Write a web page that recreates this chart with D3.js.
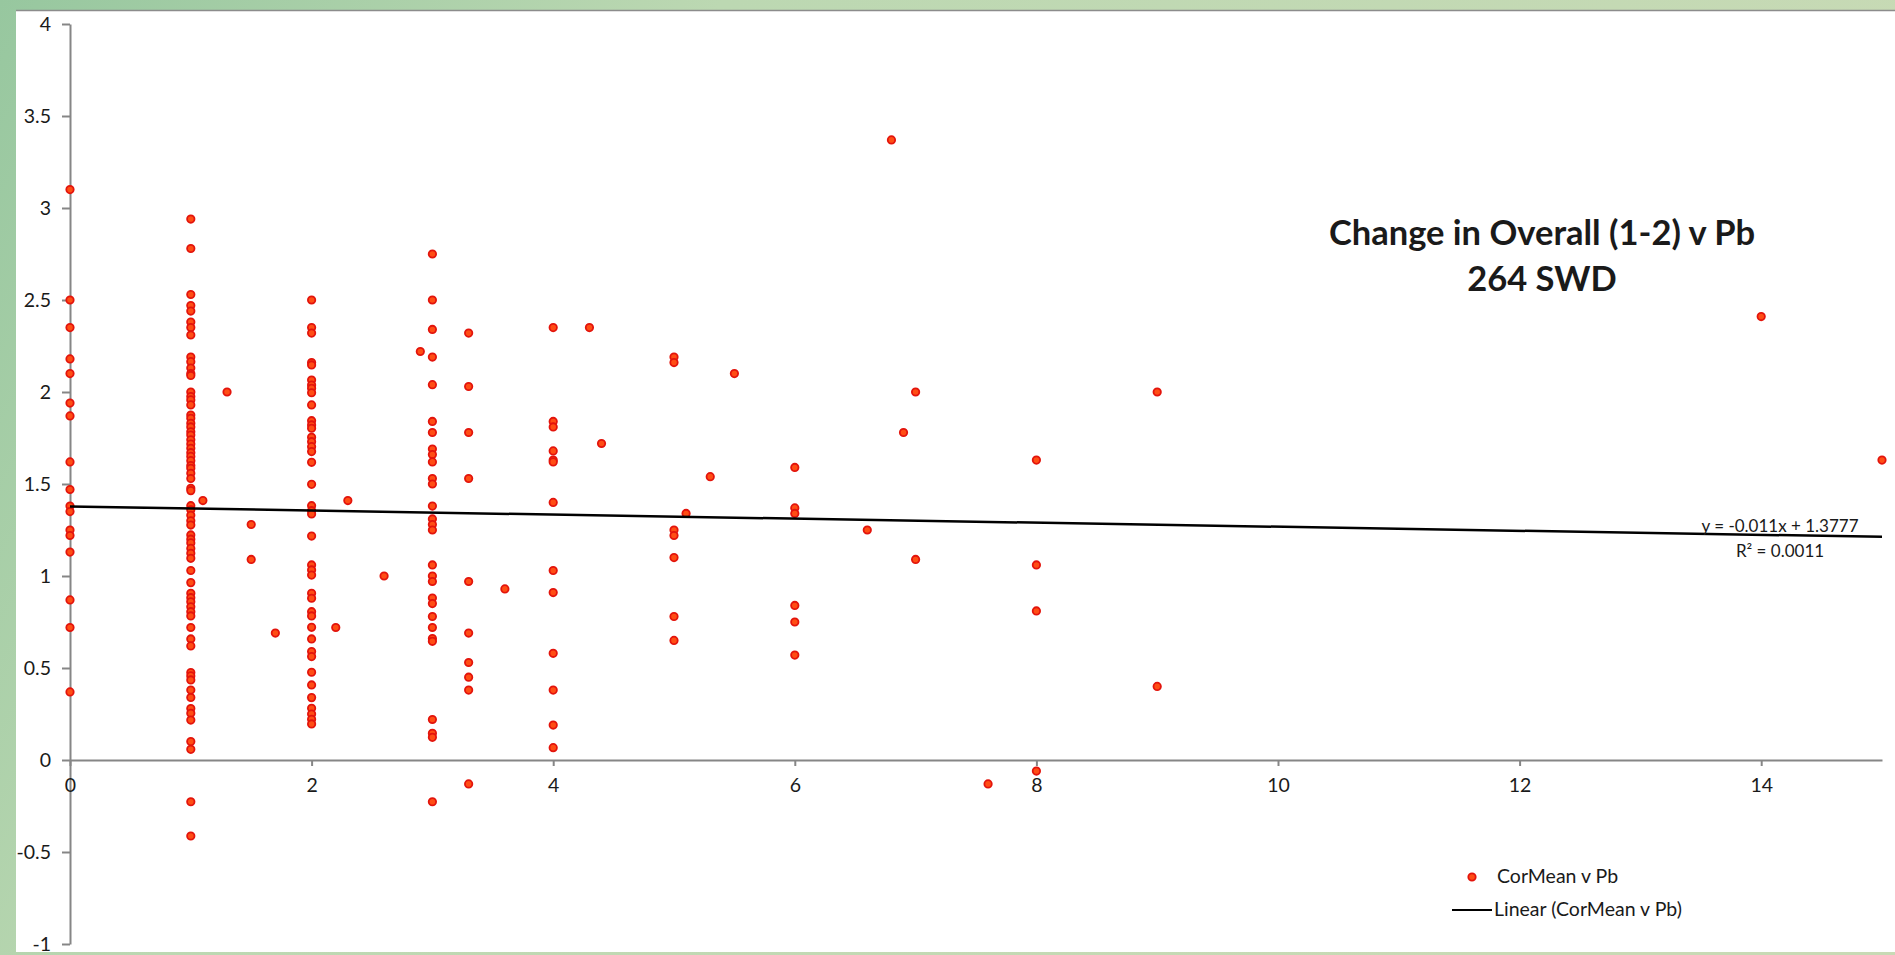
<!DOCTYPE html>
<html>
<head>
<meta charset="utf-8">
<script src="https://cdn.jsdelivr.net/npm/d3@7"></script>
<style>
  body { margin: 0; overflow: hidden; background: #b8d6ae; }
  svg { display: block; }
  text { font-family: Lato, "Open Sans", sans-serif; fill: #1a1a1a; }
</style>
</head>
<body>
<div id="chart"></div>
<script>
// CorMean change for the dots stacked on whole Pb values
const pbAt0 = [3.1, 2.5, 2.35, 2.18, 2.1, 1.94, 1.87, 1.62, 1.47, 1.38, 1.35, 1.25, 1.22, 1.13, 0.87, 0.72, 0.37];
const pbAt1 = [2.94, 2.78, 2.53, 2.47, 2.44, 2.38, 2.35, 2.31, 2.19, 2.165, 2.13, 2.1, 2.09, 2.0, 1.975, 1.957,
  1.93, 1.875, 1.857, 1.83, 1.81, 1.784, 1.766, 1.74, 1.717, 1.694, 1.67, 1.65, 1.627, 1.6, 1.585, 1.558,
  1.53, 1.477, 1.464, 1.382, 1.36, 1.33, 1.3, 1.277, 1.223, 1.2, 1.18, 1.15, 1.123, 1.096, 1.03, 0.964,
  0.906, 0.882, 0.86, 0.833, 0.806, 0.783, 0.72, 0.658, 0.62, 0.475, 0.457, 0.435, 0.38, 0.34, 0.28,
  0.254, 0.217, 0.1, 0.058, -0.227, -0.413];
const pbAt2 = [2.5, 2.35, 2.32, 2.16, 2.147, 2.065, 2.038, 2.02, 1.996, 1.93, 1.844, 1.821, 1.803, 1.754,
  1.73, 1.703, 1.676, 1.618, 1.498, 1.382, 1.355, 1.337, 1.217, 1.06, 1.033, 1.005, 0.906, 0.879, 0.806,
  0.783, 0.721, 0.658, 0.589, 0.562, 0.477, 0.408, 0.339, 0.281, 0.25, 0.221, 0.196];
const pbAt3 = [2.75, 2.5, 2.34, 2.19, 2.04, 1.84, 1.78, 1.69, 1.66, 1.62, 1.53, 1.5, 1.38, 1.31, 1.28, 1.25,
  1.06, 1.0, 0.97, 0.88, 0.85, 0.78, 0.72, 0.66, 0.645, 0.22, 0.145, 0.123, -0.227];
const pbAt3_3 = [2.32, 2.03, 1.78, 1.53, 0.97, 0.69, 0.53, 0.45, 0.38, -0.13];
const pbAt4 = [2.35, 1.84, 1.81, 1.68, 1.63, 1.62, 1.4, 1.03, 0.91, 0.58, 0.38, 0.19, 0.067];
const pbAt5 = [2.19, 2.16, 1.25, 1.22, 1.1, 0.78, 0.65];
const pbAt6 = [1.59, 1.37, 1.34, 0.84, 0.75, 0.57];
const pbAt8 = [1.63, 1.06, 0.81, -0.06];
const pbAt9 = [2.0, 0.4];

// the loose dots: Pb and CorMean pairs
const otherPb   = [1.1, 1.3, 1.5, 1.5, 1.7, 2.2, 2.3, 2.6, 2.9, 3.6, 4.3, 4.4, 5.1, 5.3, 5.5, 6.6, 6.8, 6.9, 7, 7, 7.6, 14, 15];
const otherMean = [1.41, 2.0, 1.28, 1.09, 0.69, 0.72, 1.41, 1.0, 2.22, 0.93, 2.35, 1.72, 1.34, 1.54, 2.1, 1.25, 3.37, 1.78, 2.0, 1.09, -0.13, 2.41, 1.63];

// trendline as printed by excel
const trendSlope = -0.011;
const trendIntercept = 1.3777;

const xTicks = [0, 2, 4, 6, 8, 10, 12, 14];
const yTicks = [-1, -0.5, 0, 0.5, 1, 1.5, 2, 2.5, 3, 3.5, 4];

// put every dot in one list
let points = [];
[[0, pbAt0], [1, pbAt1], [2, pbAt2], [3, pbAt3], [3.3, pbAt3_3], [4, pbAt4],
 [5, pbAt5], [6, pbAt6], [8, pbAt8], [9, pbAt9]].forEach(function(col) {
    col[1].forEach(function(v) { points.push({ pb: col[0], mean: v }); });
});
otherPb.forEach(function(p, i) { points.push({ pb: p, mean: otherMean[i] }); });

const W = 1895, H = 955;

let svg = d3.select("#chart").append("svg")
    .attr("width", W)
    .attr("height", H);

// green background and the white chart area
let defs = svg.append("defs");
let grad = defs.append("linearGradient")
    .attr("id", "bg")
    .attr("x1", "0").attr("y1", "0").attr("x2", "1").attr("y2", "0.3");
grad.append("stop").attr("offset", "0").attr("stop-color", "#97c79f");
grad.append("stop").attr("offset", "0.35").attr("stop-color", "#bcd8b2");
grad.append("stop").attr("offset", "1").attr("stop-color", "#c8dab5");

svg.append("rect")
    .attr("width", W).attr("height", H)
    .attr("fill", "url(#bg)");

svg.append("rect")
    .attr("x", 16).attr("y", 10)
    .attr("width", W - 16).attr("height", 942)
    .attr("fill", "#ffffff");
svg.append("line")
    .attr("x1", 16).attr("x2", W)
    .attr("y1", 10.5).attr("y2", 10.5)
    .attr("stroke", "#8c8c8c").attr("stroke-width", 1.5);

// scales
let x = d3.scaleLinear().domain([0, 15]).range([70, 1882]);
let y = d3.scaleLinear().domain([-1, 4]).range([944, 24]);

// y axis
let yAxis = svg.append("g")
    .attr("transform", "translate(" + x(0) + ",0)")
    .call(d3.axisLeft(y)
        .tickValues(yTicks)
        .tickSize(8)
        .tickSizeOuter(0)
        .tickPadding(11)
        .tickFormat(function(d) { return String(d); }));

// x axis sits on zero
let xAxis = svg.append("g")
    .attr("transform", "translate(0," + y(0) + ")")
    .call(d3.axisBottom(x)
        .tickValues(xTicks)
        .tickSize(6)
        .tickSizeOuter(0)
        .tickPadding(12)
        .tickFormat(function(d) { return String(d); }));

svg.selectAll(".domain, .tick line")
    .attr("stroke", "#868686")
    .attr("stroke-width", 2);
yAxis.selectAll("text").style("font-size", "19.5px").attr("fill", "#1a1a1a");
xAxis.selectAll("text").style("font-size", "19.5px").attr("fill", "#1a1a1a");

// dots
svg.append("g")
    .selectAll("circle")
    .data(points)
    .enter().append("circle")
    .attr("cx", function(d) { return x(d.pb); })
    .attr("cy", function(d) { return y(d.mean); })
    .attr("r", 3.7)
    .attr("fill", "#ff4d14")
    .attr("stroke", "#e3140c")
    .attr("stroke-width", 1.8);

// linear trendline
let trend = d3.line()
    .x(function(d) { return x(d); })
    .y(function(d) { return y(trendSlope * d + trendIntercept); });
svg.append("path")
    .datum(x.domain())
    .attr("d", trend)
    .attr("fill", "none")
    .attr("stroke", "#000")
    .attr("stroke-width", 2.5);

// equation label
svg.append("text")
    .attr("x", 1780).attr("y", 532)
    .attr("text-anchor", "middle")
    .style("font-size", "17px")
    .text("y = " + trendSlope + "x + " + trendIntercept);
svg.append("text")
    .attr("x", 1780).attr("y", 557)
    .attr("text-anchor", "middle")
    .style("font-size", "17px")
    .text("R² = 0.0011");

// title
svg.append("text")
    .attr("x", 1542).attr("y", 245)
    .attr("text-anchor", "middle")
    .attr("font-weight", "bold")
    .style("font-size", "34.5px")
    .text("Change in Overall (1-2) v Pb");
svg.append("text")
    .attr("x", 1542).attr("y", 291)
    .attr("text-anchor", "middle")
    .attr("font-weight", "bold")
    .style("font-size", "34.5px")
    .text("264 SWD");

// legend
let legend = svg.append("g");
legend.append("circle")
    .attr("cx", 1472).attr("cy", 877)
    .attr("r", 3.7)
    .attr("fill", "#ff4d14")
    .attr("stroke", "#e3140c")
    .attr("stroke-width", 1.8);
legend.append("text")
    .attr("x", 1497).attr("y", 883)
    .style("font-size", "19.5px")
    .text("CorMean v Pb");
legend.append("line")
    .attr("x1", 1452).attr("x2", 1492)
    .attr("y1", 910).attr("y2", 910)
    .attr("stroke", "#000").attr("stroke-width", 2);
legend.append("text")
    .attr("x", 1494).attr("y", 916)
    .style("font-size", "19.5px")
    .text("Linear (CorMean v Pb)");
</script>
</body>
</html>
